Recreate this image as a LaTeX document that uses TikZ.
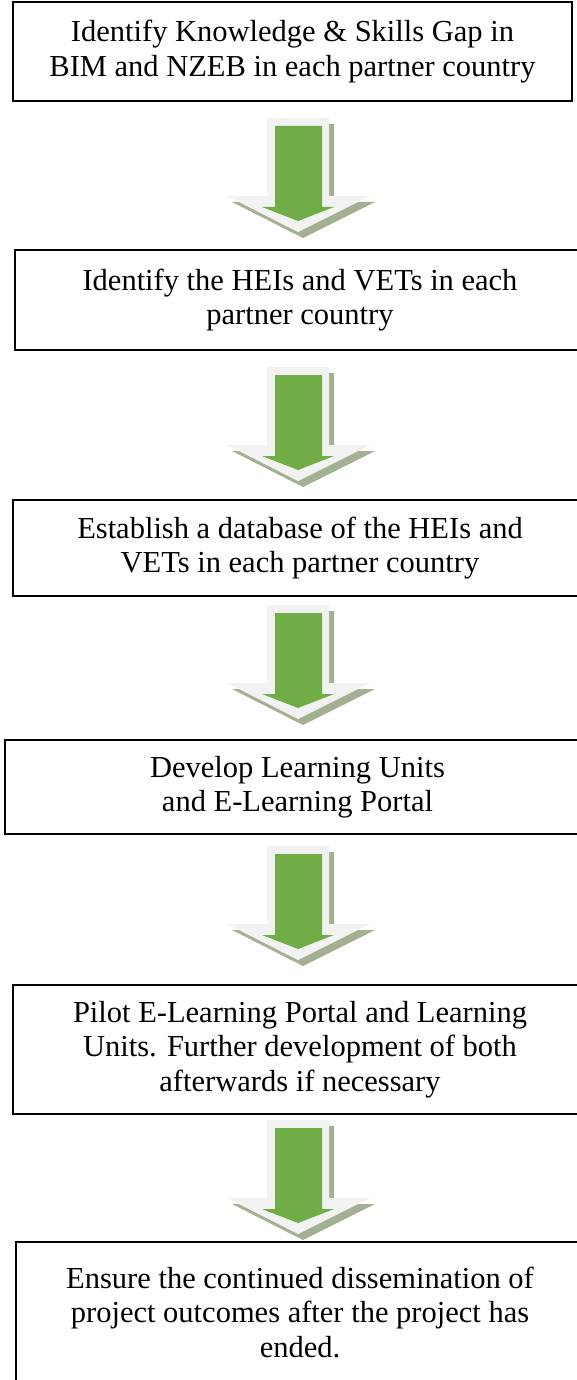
\documentclass[tikz,border=0pt]{standalone}
\usepackage{fontspec}
\setmainfont{Liberation Serif}
\usepackage{tikz}

\definecolor{arrowgreen}{RGB}{112,173,71}
\definecolor{arrowlight}{RGB}{242,242,242}
\definecolor{arrowshade}{RGB}{163,176,146}

\begin{document}
\begin{tikzpicture}[x=1pt,y=-1pt,
    stage/.style={draw,line width=2pt,rectangle,align=center,inner sep=0pt,
      font=\fontsize{30.5}{34.5}\selectfont},
    flow/.pic={
      \fill[arrowshade] (-26,6) -- (36,6) -- (36,84) -- (77,84) -- (5,120)
        -- (-66,84) -- (-26,84) -- cycle;
      \fill[arrowlight] (-31,0) -- (31,0) -- (31,78) -- (72,78) -- (0,114)
        -- (-71,78) -- (-31,78) -- cycle;
      \fill[arrowgreen] (-23,8) -- (24,8) -- (24,89) -- (36,89) -- (0,103)
        -- (-36,89) -- (-23,89) -- cycle;
    }]
  \useasboundingbox (0,0) rectangle (576,1380);

  \node[stage, minimum width=559pt, minimum height=99pt] (gap) at (292.5,51.5)
    {Identify Knowledge \& Skills Gap in\\BIM and NZEB in each partner country};
  \node[stage, minimum width=570pt, minimum height=100pt] (heis) at (300,300)
    {Identify the HEIs and VETs in each\\partner country};
  \node[stage, minimum width=574pt, minimum height=96pt] (dbase) at (300,548)
    {Establish a database of the HEIs and\\VETs in each partner country};
  \node[stage, minimum width=585pt, minimum height=94pt] (units) at (297.5,787)
    {Develop Learning Units\\and E-Learning Portal};
  \node[stage, minimum width=574pt, minimum height=129pt] (pilot) at (300,1049.5)
    {Pilot E-Learning Portal and Learning\\Units. Further development of both\\afterwards if necessary};
  \node[stage, minimum width=568pt, minimum height=140pt] (dissem) at (300,1312)
    {Ensure the continued dissemination of\\project outcomes after the project has\\ended.};

  \pic at (298,118) {flow};
  \pic at (298,367) {flow};
  \pic at (298,605) {flow};
  \pic at (298,846) {flow};
  \pic at (298,1120) {flow};
\end{tikzpicture}
\end{document}
